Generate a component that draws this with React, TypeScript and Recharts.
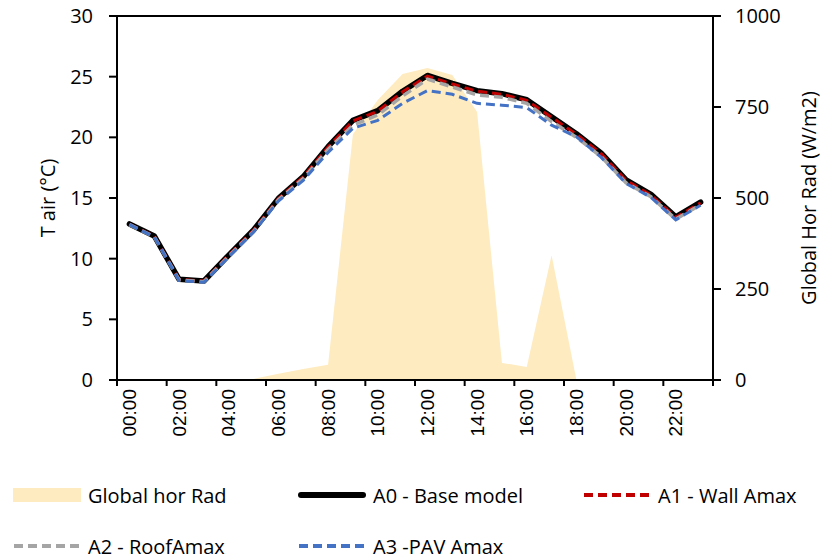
import React from "react";
import { ComposedChart, Area, Line, XAxis, YAxis, Legend } from "recharts";

const hours = [
  "00:00", "01:00", "02:00", "03:00", "04:00", "05:00", "06:00", "07:00",
  "08:00", "09:00", "10:00", "11:00", "12:00", "13:00", "14:00", "15:00",
  "16:00", "17:00", "18:00", "19:00", "20:00", "21:00", "22:00", "23:00",
];

// W/m2, right axis
const globalHorRad = [0, 0, 0, 0, 0, 3, 17, 30, 42, 675, 769, 841, 857, 838, 736, 47, 36, 343, 0, 0, 0, 0, 0, 0];

// T air (°C), left axis
const a0Base = [12.86, 11.87, 8.3, 8.16, 10.3, 12.36, 14.97, 16.76, 19.23, 21.4, 22.2, 23.8, 25.1, 24.45, 23.85, 23.6, 23.1, 21.7, 20.3, 18.7, 16.5, 15.3, 13.45, 14.65];
const a1Wall = [12.85, 11.85, 8.3, 8.15, 10.3, 12.35, 14.95, 16.75, 19.2, 21.35, 22.15, 23.75, 25.05, 24.4, 23.8, 23.55, 23.05, 21.65, 20.25, 18.65, 16.45, 15.25, 13.4, 14.6];
const a2Roof = [12.8, 11.8, 8.25, 8.1, 10.2, 12.25, 14.85, 16.6, 19.0, 21.0, 21.85, 23.4, 24.8, 24.15, 23.5, 23.3, 22.8, 21.3, 20.0, 18.4, 16.25, 15.1, 13.25, 14.45];
const a3Pav = [12.8, 11.8, 8.2, 8.05, 10.15, 12.2, 14.75, 16.45, 18.75, 20.75, 21.4, 22.8, 23.85, 23.55, 22.8, 22.65, 22.45, 21.0, 20.05, 18.35, 16.2, 15.05, 13.2, 14.4];

// labels sit on even hours, tick marks sit between categories
const hourLabelTicks = [0, 2, 4, 6, 8, 10, 12, 14, 16, 18, 20, 22];
const hourBoundaryTicks = [-0.5, 1.5, 3.5, 5.5, 7.5, 9.5, 11.5, 13.5, 15.5, 17.5, 19.5, 21.5, 23.5];
const leftTicks = [0, 5, 10, 15, 20, 25, 30];
const rightTicks = [0, 250, 500, 750, 1000];

const data = hours.map((hour, i) => ({
  idx: i,
  hour,
  rad: globalHorRad[i],
  a0: a0Base[i],
  a1: a1Wall[i],
  a2: a2Roof[i],
  a3: a3Pav[i],
}));

const xTicks = [...hourBoundaryTicks, ...hourLabelTicks].sort((a, b) => a - b);

const WIDTH = 825;
const HEIGHT = 559;
const LEFT_AXIS_W = 117;
const RIGHT_AXIS_W = 112;
const PLOT_W = WIDTH - LEFT_AXIS_W - RIGHT_AXIS_W;
const Y_TICK_SIZE = 8;
const LEFT_TICK_MARGIN = 16;

const FONT = "'Open Sans', sans-serif";
const RAD_FILL = "#FEEBC0";
const DASH = "9 5";
const AXIS_W = 2;

const legendItems = [
  { name: "Global hor Rad", kind: "area", color: RAD_FILL, row: 0, col: 0 },
  { name: "A0 - Base model", kind: "solid", color: "#000000", row: 0, col: 1 },
  { name: "A1 - Wall Amax", kind: "dash", color: "#C00000", row: 0, col: 2 },
  { name: "A2 - RoofAmax", kind: "dash", color: "#A5A5A5", row: 1, col: 0 },
  { name: "A3 -PAV Amax", kind: "dash", color: "#4472C4", row: 1, col: 1 },
];

function LegendIcon({ kind, color }: { kind: string; color: string }) {
  return (
    <svg width={70} height={16} style={{ display: "block" }}>
      {kind === "area" && <rect x={1} y={1} width={68} height={14} fill={color} />}
      {kind === "solid" && (
        <line x1={4} y1={8} x2={66} y2={8} stroke={color} strokeWidth={6} strokeLinecap="round" />
      )}
      {kind === "dash" && (
        <line x1={2} y1={8} x2={68} y2={8} stroke={color} strokeWidth={4} strokeDasharray={DASH} />
      )}
    </svg>
  );
}

function renderLegend() {
  const colLeft = [12, 297, 582];
  const rowCenter = [20, 71];
  return (
    <div style={{ position: "relative", width: WIDTH, height: 84 }}>
      {legendItems.map((item) => (
        <div
          key={item.name}
          style={{
            position: "absolute",
            left: colLeft[item.col],
            top: rowCenter[item.row] - 14,
            height: 28,
            display: "flex",
            alignItems: "center",
            whiteSpace: "nowrap",
          }}
        >
          <LegendIcon kind={item.kind} color={item.color} />
          <span style={{ marginLeft: 6, fontFamily: FONT, fontSize: 20, color: "#000" }}>{item.name}</span>
        </div>
      ))}
    </div>
  );
}

function axisTitle(text: string, cx: number) {
  return (props: any) => {
    const vb = props.viewBox || {};
    const cy = (vb.y ?? 0) + (vb.height ?? 0) / 2;
    return (
      <text
        x={cx}
        y={cy}
        transform={`rotate(-90, ${cx}, ${cy})`}
        textAnchor="middle"
        dominantBaseline="central"
        fontFamily={FONT}
        fontSize={20}
        fill="#000"
      >
        {text}
      </text>
    );
  };
}

// half-hour values draw a tick mark, whole hours draw the rotated label
function HourTick(props: any) {
  const { x, y, payload } = props;
  const v = payload.value;
  if (!Number.isInteger(v)) {
    return <line x1={x} y1={y} x2={x} y2={y + 6} stroke="#000" strokeWidth={AXIS_W} />;
  }
  const ty = y + 9;
  return (
    <text
      x={x}
      y={ty}
      dy="0.35em"
      transform={`rotate(-90, ${x}, ${ty})`}
      textAnchor="end"
      style={{ fontFamily: "'Liberation Sans', Arial, sans-serif", fontSize: 19 }}
      fill="#000"
    >
      {hours[v]}
    </text>
  );
}

// left tick label; the top value also draws the plot's top border
function TempTick(props: any) {
  const { x, y, payload } = props;
  const axisX = x + Y_TICK_SIZE + LEFT_TICK_MARGIN;
  const isTop = payload.value === leftTicks[leftTicks.length - 1];
  return (
    <g>
      {isTop && <line x1={axisX} y1={y} x2={axisX + PLOT_W} y2={y} stroke="#000" strokeWidth={AXIS_W} />}
      <text
        x={x}
        y={y}
        dy="0.35em"
        textAnchor="end"
        style={{ fontFamily: FONT, fontSize: 20 }}
        fill="#000"
      >
        {payload.value}
      </text>
    </g>
  );
}

export default function App() {
  return (
    <div style={{ position: "absolute", left: 0, top: 0, width: WIDTH, height: HEIGHT, background: "#fff" }}>
      <ComposedChart
        width={WIDTH}
        height={HEIGHT}
        data={data}
        margin={{ top: 16, right: 0, bottom: 129, left: 0 }}
        style={{ fontFamily: FONT }}
      >
        <XAxis
          xAxisId="x"
          dataKey="idx"
          type="number"
          domain={[-0.5, 23.5]}
          ticks={xTicks}
          interval={0}
          tick={<HourTick />}
          tickSize={0}
          tickMargin={0}
          tickLine={false}
          axisLine={{ stroke: "#000", strokeWidth: AXIS_W }}
          height={50}
        />
        <YAxis
          yAxisId="left"
          orientation="left"
          width={LEFT_AXIS_W}
          domain={[0, 30]}
          ticks={leftTicks}
          interval={0}
          tickSize={Y_TICK_SIZE}
          tickMargin={LEFT_TICK_MARGIN}
          tick={<TempTick />}
          tickLine={{ stroke: "#000", strokeWidth: AXIS_W }}
          axisLine={{ stroke: "#000", strokeWidth: AXIS_W }}
          label={axisTitle("T air (°C)", 47)}
        />
        <YAxis
          yAxisId="right"
          orientation="right"
          width={RIGHT_AXIS_W}
          domain={[0, 1000]}
          ticks={rightTicks}
          interval={0}
          tickSize={Y_TICK_SIZE}
          tickMargin={14}
          tick={{ fill: "#000", fontSize: 20, fontFamily: FONT }}
          tickLine={{ stroke: "#000", strokeWidth: AXIS_W }}
          axisLine={{ stroke: "#000", strokeWidth: AXIS_W }}
          label={axisTitle("Global Hor Rad (W/m2)", 808)}
        />
        <Area
          xAxisId="x"
          yAxisId="right"
          dataKey="rad"
          name="Global hor Rad"
          type="linear"
          fill={RAD_FILL}
          fillOpacity={1}
          stroke="none"
          isAnimationActive={false}
        />
        <Line
          xAxisId="x"
          yAxisId="left"
          dataKey="a0"
          name="A0 - Base model"
          type="linear"
          stroke="#000000"
          strokeWidth={5.5}
          strokeLinejoin="round"
          strokeLinecap="round"
          dot={false}
          isAnimationActive={false}
        />
        <Line
          xAxisId="x"
          yAxisId="left"
          dataKey="a1"
          name="A1 - Wall Amax"
          type="linear"
          stroke="#C00000"
          strokeWidth={3}
          strokeDasharray={DASH}
          dot={false}
          isAnimationActive={false}
        />
        <Line
          xAxisId="x"
          yAxisId="left"
          dataKey="a2"
          name="A2 - RoofAmax"
          type="linear"
          stroke="#A5A5A5"
          strokeWidth={3.5}
          strokeDasharray={DASH}
          dot={false}
          isAnimationActive={false}
        />
        <Line
          xAxisId="x"
          yAxisId="left"
          dataKey="a3"
          name="A3 -PAV Amax"
          type="linear"
          stroke="#4472C4"
          strokeWidth={3}
          strokeDasharray={DASH}
          dot={false}
          isAnimationActive={false}
        />
        <Legend
          verticalAlign="middle"
          align="center"
          layout="horizontal"
          wrapperStyle={{ top: 475, left: 0, width: WIDTH, height: 84 }}
          content={renderLegend}
        />
      </ComposedChart>
    </div>
  );
}
